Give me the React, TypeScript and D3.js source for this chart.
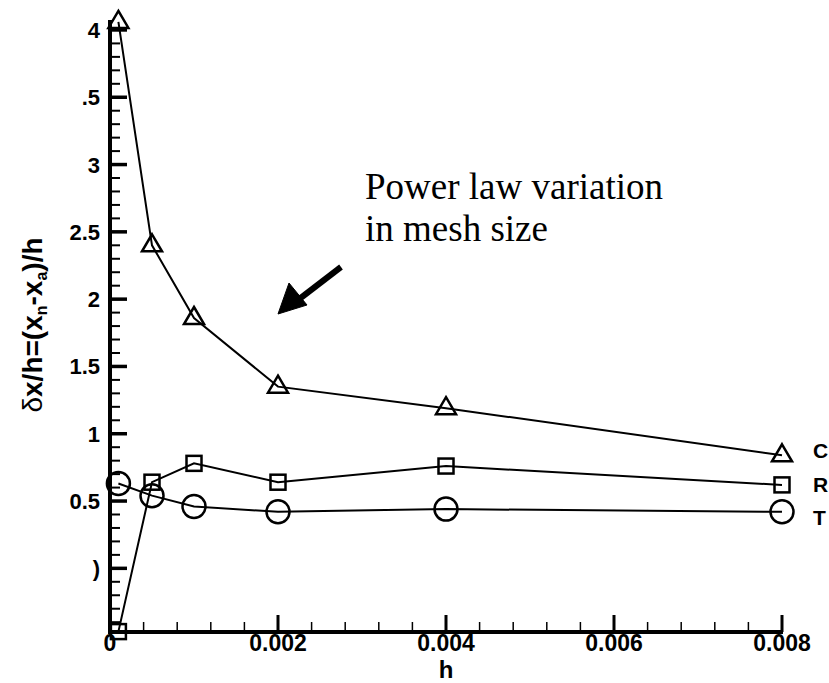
import React from "react";
import * as d3 from "d3";

const hValues = [0.0001, 0.0005, 0.001, 0.002, 0.004, 0.008];
const seriesC = [4.06, 2.4, 1.86, 1.35, 1.19, 0.84];
const seriesR = [-0.47, 0.64, 0.78, 0.64, 0.76, 0.62];
const seriesT = [0.63, 0.54, 0.46, 0.42, 0.44, 0.42];
const seriesNames = ["C", "R", "T"];
const xTickValues = [0, 0.002, 0.004, 0.006, 0.008];
const xTickLabels = ["0", "0.002", "0.004", "0.006", "0.008"];
const yTickValues = [4, 3.5, 3, 2.5, 2, 1.5, 1, 0.5, 0];
const yTickLabels = ["4", ".5", "3", "2.5", "2", "1.5", "1", "0.5", ")"];
const annotationLines = ["Power law variation", "in mesh size"];

const W = 829;
const H = 683;

export default function App() {
  const x = d3.scaleLinear().domain([0, 0.008]).range([110, 782]);
  const y = d3.scaleLinear().domain([-0.473, 4.074]).range([632, 20]);

  const line = d3
    .line<number>()
    .x((_, i) => x(hValues[i]))
    .y((d) => y(d));

  const xMinor = d3.range(0, 0.00801, 0.0004);
  const yMinor = d3.range(-0.4, 4.001, 0.1).map((v) => +v.toFixed(2));

  const font = "'Liberation Sans', Arial, sans-serif";

  const tri = (cx: number, cy: number) => {
    const s = 10;
    return `M${cx},${cy - 11}L${cx + s},${cy + 6}L${cx - s},${cy + 6}Z`;
  };

  const allSeries = [seriesC, seriesR, seriesT];
  const lastX = x(hValues[hValues.length - 1]);

  return (
    <svg
      width={W}
      height={H}
      style={{ position: "absolute", left: 0, top: 0, background: "#fff" }}
    >
      <rect x={0} y={0} width={W} height={H} fill="#fff" />
      {xMinor.map((v, i) => (
        <line
          key={"xm" + i}
          x1={x(v)}
          x2={x(v)}
          y1={632}
          y2={622}
          stroke="#000"
          strokeWidth={1.5}
        />
      ))}
      {xTickValues.map((v, i) => (
        <line
          key={"xM" + i}
          x1={x(v)}
          x2={x(v)}
          y1={632}
          y2={615}
          stroke="#000"
          strokeWidth={3}
        />
      ))}
      {yMinor.map((v, i) => (
        <line
          key={"ym" + i}
          x1={110}
          x2={120}
          y1={y(v)}
          y2={y(v)}
          stroke="#000"
          strokeWidth={2}
        />
      ))}
      {yTickValues.map((v, i) => (
        <line
          key={"yM" + i}
          x1={110}
          x2={127}
          y1={y(v)}
          y2={y(v)}
          stroke="#000"
          strokeWidth={3.5}
        />
      ))}
      <line x1={110} x2={110} y1={20} y2={634} stroke="#000" strokeWidth={4} />
      <line x1={108} x2={783} y1={632} y2={632} stroke="#000" strokeWidth={4} />

      {xTickValues.map((v, i) => (
        <text
          key={"xl" + i}
          x={x(v)}
          y={651}
          textAnchor="middle"
          fontFamily={font}
          fontWeight="bold"
          fontSize={23}
        >
          {xTickLabels[i]}
        </text>
      ))}
      {yTickValues.map((v, i) => (
        <text
          key={"yl" + i}
          x={100}
          y={y(v) + 8}
          textAnchor="end"
          fontFamily={font}
          fontWeight="bold"
          fontSize={22}
        >
          {yTickLabels[i]}
        </text>
      ))}

      <text
        x={446}
        y={678}
        textAnchor="middle"
        fontFamily={font}
        fontWeight="bold"
        fontSize={24}
      >
        h
      </text>
      <text
        transform={`translate(42,325) rotate(-90)`}
        textAnchor="middle"
        fontFamily={font}
        fontWeight="bold"
        fontSize={28}
      >
        <tspan fontWeight="normal">δ</tspan>
        <tspan>x/h=(x</tspan>
        <tspan fontSize={16} dy={5}>n</tspan>
        <tspan dy={-5}>-x</tspan>
        <tspan fontSize={16} dy={5}>a</tspan>
        <tspan dy={-5}>)/h</tspan>
      </text>

      {allSeries.map((s, i) => (
        <path
          key={"line" + i}
          d={line(s) || ""}
          fill="none"
          stroke="#000"
          strokeWidth={2}
        />
      ))}

      {seriesC.map((v, i) => (
        <path
          key={"c" + i}
          d={tri(x(hValues[i]), y(v))}
          fill="none"
          stroke="#000"
          strokeWidth={2.5}
        />
      ))}
      {seriesR.map((v, i) => (
        <rect
          key={"r" + i}
          x={x(hValues[i]) - 7.5}
          y={y(v) - 7.5}
          width={15}
          height={15}
          fill="none"
          stroke="#000"
          strokeWidth={2.5}
        />
      ))}
      {seriesT.map((v, i) => (
        <circle
          key={"t" + i}
          cx={x(hValues[i])}
          cy={y(v)}
          r={11.5}
          fill="none"
          stroke="#000"
          strokeWidth={2.5}
        />
      ))}

      {allSeries.map((s, i) => (
        <text
          key={"name" + i}
          x={lastX + 31}
          y={y(s[s.length - 1]) + 7 + [-4, 0, 6][i]}
          fontFamily={font}
          fontWeight="bold"
          fontSize={21}
        >
          {seriesNames[i]}
        </text>
      ))}

      {annotationLines.map((t, i) => (
        <text
          key={"ann" + i}
          x={365}
          y={199 + i * 42}
          fontFamily="'Liberation Serif', 'Times New Roman', serif"
          fontSize={37}
        >
          {t}
        </text>
      ))}
      <line x1={341} y1={267} x2={298} y2={300} stroke="#000" strokeWidth={6} />
      <path d="M278,314 L289,283 L307,305 Z" fill="#000" stroke="#000" strokeWidth={1} />
    </svg>
  );
}
